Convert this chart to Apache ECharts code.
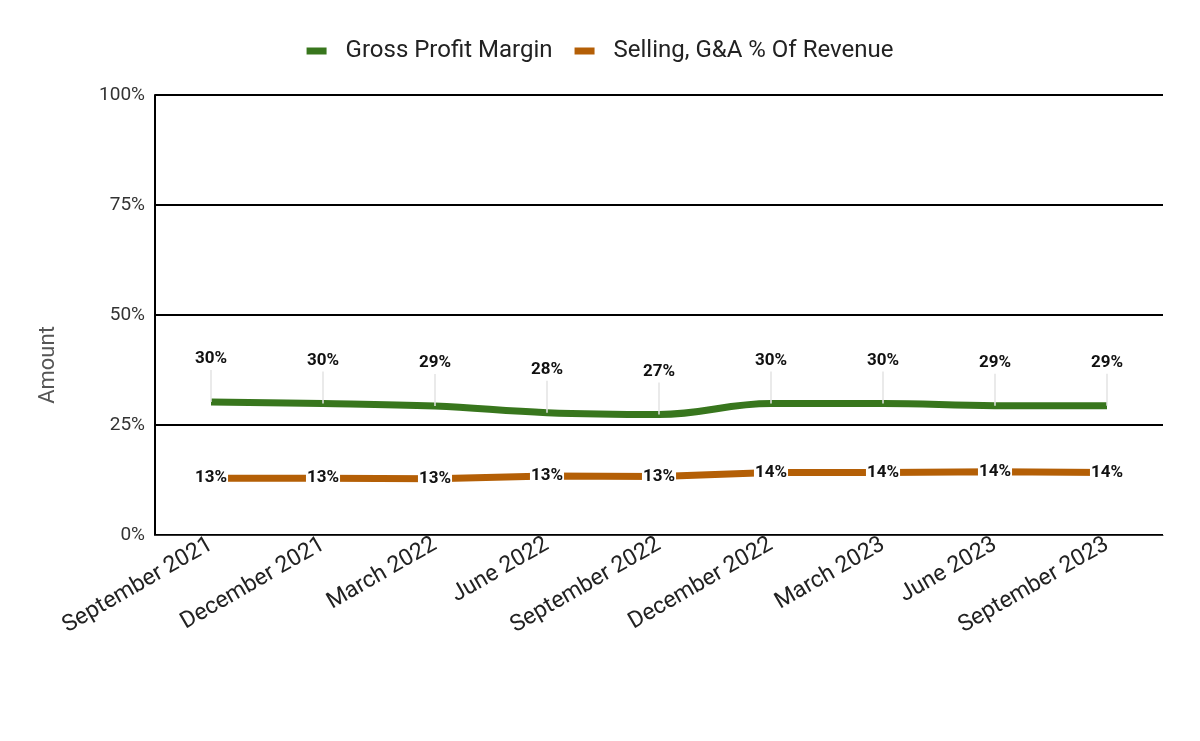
<!DOCTYPE html>
<html>
<head>
<meta charset="utf-8">
<script src="https://cdn.jsdelivr.net/npm/echarts@6/dist/echarts.min.js"></script>
<style>
  html, body { margin: 0; padding: 0; background: #fff; }
  #root { width: 1200px; height: 741px; }
</style>
</head>
<body>
<div id="root"></div>
<script>
const quarters = ['September 2021', 'December 2021', 'March 2022', 'June 2022', 'September 2022',
  'December 2022', 'March 2023', 'June 2023', 'September 2023']
const grossMargin = [30.2, 29.9, 29.3, 27.8, 27.4, 29.9, 29.9, 29.4, 29.4]
const sgaPct = [12.9, 12.9, 12.8, 13.4, 13.3, 14.2, 14.2, 14.4, 14.2]
const yTicks = [0, 25, 50, 75, 100]

const chart = echarts.init(document.getElementById('root'))
const font = 'Roboto, sans-serif'

const option = {
  animation: false,
  textStyle: { fontFamily: font },
  legend: {
    top: 34,
    left: 'center',
    itemWidth: 20,
    itemHeight: 7,
    itemGap: 22,
    icon: 'rect',
    textStyle: { fontSize: 24, color: '#222', fontFamily: font, padding: [0, 0, 0, 14] },
    data: ['Gross Profit Margin', 'Selling, G&A % Of Revenue']
  },
  grid: { left: 155, right: 37, top: 95, bottom: 206, containLabel: false },
  xAxis: {
    type: 'category',
    data: quarters,
    boundaryGap: true,
    axisLine: { show: true, lineStyle: { color: '#333', width: 1 } },
    axisTick: { show: false },
    axisLabel: { rotate: 30, fontSize: 23, color: '#222', margin: 8, interval: 0, fontFamily: font }
  },
  yAxis: {
    type: 'value',
    min: yTicks[0],
    max: yTicks[yTicks.length - 1],
    interval: 25,
    axisLine: { show: true, lineStyle: { color: '#000', width: 2 } },
    axisTick: { show: false },
    axisLabel: { formatter: '{value}%', fontSize: 19, color: '#333', margin: 10, fontFamily: font },
    splitLine: { lineStyle: { color: '#000', width: 2 } }
  },
  graphic: [{
    type: 'text',
    x: 48,
    y: 365,
    rotation: Math.PI / 2,
    style: {
      text: 'Amount',
      font: '22px Roboto, sans-serif',
      fill: '#555',
      align: 'center',
      verticalAlign: 'middle'
    }
  }],
  series: [
    {
      name: 'Gross Profit Margin',
      type: 'line',
      data: grossMargin,
      smooth: 0.4,
      symbol: 'circle',
      symbolSize: 0,
      showSymbol: true,
      color: '#38761d',
      itemStyle: { color: '#38761d' },
      lineStyle: { width: 7, color: '#38761d' },
      z: 3,
      label: {
        show: true,
        position: 'top',
        distance: 0,
        formatter: p => '{v|' + Math.round(p.value) + '%}\n{l|}',
        rich: {
          v: { fontSize: 17, fontWeight: 'bold', color: '#111', fontFamily: font, lineHeight: 22 },
          l: { width: 1.5, height: 32, backgroundColor: '#e3e3e3' }
        }
      }
    },
    {
      name: 'Selling, G&A % Of Revenue',
      type: 'line',
      data: sgaPct,
      smooth: false,
      symbol: 'circle',
      symbolSize: 0,
      showSymbol: true,
      color: '#b45f06',
      itemStyle: { color: '#b45f06' },
      lineStyle: { width: 7, color: '#b45f06' },
      label: {
        show: true,
        position: 'inside',
        formatter: p => Math.round(p.value) + '%',
        fontSize: 17,
        fontWeight: 'bold',
        color: '#111',
        backgroundColor: '#fff',
        padding: [1, 1],
        fontFamily: font
      }
    }
  ]
}

chart.setOption(option)
</script>
</body>
</html>
